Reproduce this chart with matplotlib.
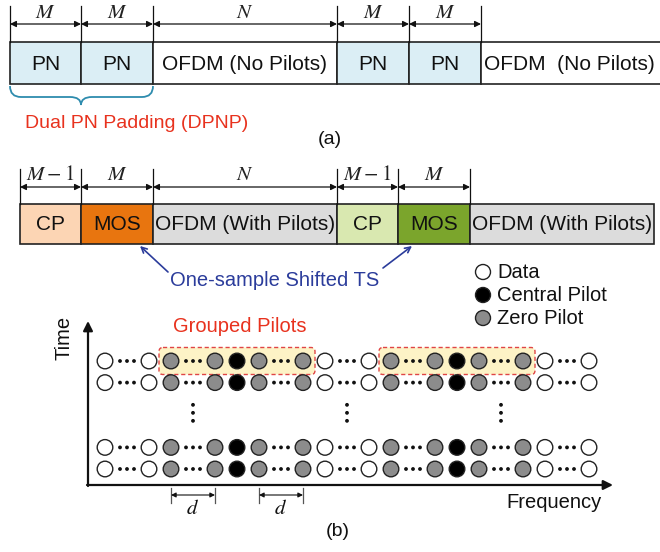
import matplotlib
matplotlib.use('Agg')
import matplotlib.pyplot as plt
from matplotlib.patches import Rectangle, Circle, FancyBboxPatch, PathPatch
from matplotlib.path import Path

plt.rcParams['font.family'] = ['Liberation Sans', 'DejaVu Sans']
plt.rcParams['mathtext.fontset'] = 'stix'

# ---------------- data ----------------
frame_a_labels = ['PN', 'PN', 'OFDM (No Pilots)', 'PN', 'PN', 'OFDM  (No Pilots)']
frame_a_dims = ['$M$', '$M$', '$N$', '$M$', '$M$']
frame_a_colors = ['#dbeef5', '#dbeef5', '#ffffff', '#dbeef5', '#dbeef5', '#ffffff']
frame_a_edges = [10, 81, 153, 337, 409, 481, 664]

frame_b_labels = ['CP', 'MOS', 'OFDM (With Pilots)', 'CP', 'MOS', 'OFDM (With Pilots)']
frame_b_dims = ['$M-1$', '$M$', '$N$', '$M-1$', '$M$']
frame_b_colors = ['#fcd5b4', '#e8750f', '#dcdcdc', '#d9e8b0', '#7ba52c', '#dcdcdc']
frame_b_edges = [20, 81, 153, 337, 398, 470, 654]

# O = data, B = central pilot, G = zero pilot, . = ellipsis
row_pattern = 'O.OG.GBG.GO.OG.GBG.GO.O'
row_slots = [0, 1, 4, 5]
vdots_cols = [4, 11, 18]
group_spans = [(3, 9), (13, 19)]
d_spans = [(3, 5), (7, 9)]
legend_labels = ['Data', 'Central Pilot', 'Zero Pilot']
legend_kinds = ['O', 'B', 'G']

# ---------------- styles ----------------
kind_face = {'O': '#ffffff', 'B': '#000000', 'G': '#8c8c8c'}
EDGE = '#222222'
RED = '#e8321e'
BLUE = '#2b3c9b'
BRACE = '#2e8cae'

fig = plt.figure(figsize=(6.6, 5.52), dpi=100)
ax = fig.add_axes([0, 0, 1, 1])
ax.set_xlim(0, 660)
ax.set_ylim(552, 0)
ax.axis('off')


def frame(edges, labels, colors, dims, ytop, ybot, ytick, yarr, ylab, fs=15):
    for i, lab in enumerate(labels):
        x0, x1 = edges[i], edges[i + 1]
        ax.add_patch(Rectangle((x0, ytop), x1 - x0, ybot - ytop, facecolor=colors[i],
                               edgecolor=EDGE, lw=1.2, zorder=2))
        ax.text((x0 + min(x1, 658)) / 2, (ytop + ybot) / 2 + 1, lab, ha='center', va='center',
                fontsize=fs, color='#111111', zorder=3)
    for i, dl in enumerate(dims):
        x0, x1 = edges[i], edges[i + 1]
        ax.annotate('', xy=(x1, yarr), xytext=(x0, yarr),
                    arrowprops=dict(arrowstyle='<|-|>', color='#111111', lw=0.9,
                                    mutation_scale=9, shrinkA=0, shrinkB=0))
        ax.text((x0 + x1) / 2, ylab, dl, ha='center', va='center', fontsize=15,
                color='#222222')
    for x in edges[:len(dims) + 1]:
        ax.plot([x, x], [ytick, ytop], color='#111111', lw=0.9)


# ---- (a) ----
frame(frame_a_edges, frame_a_labels, frame_a_colors, frame_a_dims, 42, 84, 6, 24, 12)

# brace under dual PN
x0, xm, x1 = frame_a_edges[0], frame_a_edges[1], frame_a_edges[2]
y0, y1, y2, r = 86, 97, 105, 11
verts = [(x0, y0), (x0, y1), (x0 + r, y1),
         (xm - r, y1), (xm, y1), (xm, y2),
         (xm, y1), (xm + r, y1),
         (x1 - r, y1), (x1, y1), (x1, y0)]
codes = [Path.MOVETO, Path.CURVE3, Path.CURVE3,
         Path.LINETO, Path.CURVE3, Path.CURVE3,
         Path.CURVE3, Path.CURVE3,
         Path.LINETO, Path.CURVE3, Path.CURVE3]
ax.add_patch(PathPatch(Path(verts, codes), facecolor='none', edgecolor=BRACE, lw=1.3))
ax.text(137, 123, 'Dual PN Padding (DPNP)', ha='center', va='center', fontsize=14, color=RED)
ax.text(330, 140, '(a)', ha='center', va='center', fontsize=14, color='#111111')

# ---- (b) frame ----
frame(frame_b_edges, frame_b_labels, frame_b_colors, frame_b_dims, 204, 244, 169, 187, 175)

ax.text(275, 281, 'One-sample Shifted TS', ha='center', va='center', fontsize=14.5, color=BLUE)
for (xs, ys), (xe, ye) in [((168, 272), (140, 246)), ((383, 268), (412, 246))]:
    ax.annotate('', xy=(xe, ye), xytext=(xs, ys),
                arrowprops=dict(arrowstyle='->', color=BLUE, lw=1.2, mutation_scale=10,
                                shrinkA=0, shrinkB=0))

# legend
for i, (lab, kind) in enumerate(zip(legend_labels, legend_kinds)):
    yy = 272 + 23 * i
    ax.add_patch(Circle((483, yy), 7.5, facecolor=kind_face[kind], edgecolor=EDGE, lw=1.0, zorder=4))
    ax.text(497, yy + 0.5, lab, ha='left', va='center', fontsize=14.5, color='#111111')

# ---- (b) grid ----
X0, DX = 105, 22
Y0, DY = 361, 21.6
R = 7.8

def cx(j):
    return X0 + DX * j

def cy(k):
    return Y0 + DY * k

for a, b in group_spans:
    ax.add_patch(FancyBboxPatch((cx(a) - 12, cy(0) - 13.5), cx(b) - cx(a) + 24, 27,
                                boxstyle='round,pad=0,rounding_size=4', facecolor='#fdf3c6',
                                edgecolor='#e04545', lw=1.0, ls=(0, (3, 2)), zorder=1))

for k in row_slots:
    for j, kind in enumerate(row_pattern):
        if kind == '.':
            for dxd in (-7, 0, 7):
                ax.add_patch(Circle((cx(j) + dxd, cy(k)), 1.9, facecolor='#111111',
                                    edgecolor='none', zorder=4))
        else:
            ax.add_patch(Circle((cx(j), cy(k)), R, facecolor=kind_face[kind],
                                edgecolor=EDGE, lw=1.0, zorder=4))

for j in vdots_cols:
    for dyd in (-8, 0, 8):
        ax.add_patch(Circle((cx(j), cy(2.4) + dyd), 1.9, facecolor='#111111',
                            edgecolor='none', zorder=4))

ax.text((cx(group_spans[0][0]) + cx(group_spans[0][1])) / 2 + 3, 327, 'Grouped Pilots',
        ha='center', va='center', fontsize=14.5, color=RED)

# axes arrows
ax.annotate('', xy=(88, 321), xytext=(88, 486),
            arrowprops=dict(arrowstyle='-|>', color='#111111', lw=1.6, mutation_scale=14,
                            shrinkA=0, shrinkB=0))
ax.annotate('', xy=(613, 485), xytext=(87, 485),
            arrowprops=dict(arrowstyle='-|>', color='#111111', lw=1.6, mutation_scale=14,
                            shrinkA=0, shrinkB=0))
ax.text(64, 338, 'Time', rotation=90, ha='center', va='center', fontsize=14.5, color='#111111')
ax.text(554, 503, 'Frequency', ha='center', va='center', fontsize=14.5, color='#111111')

# d markers
for a, b in d_spans:
    xa, xb = cx(a), cx(b)
    ax.annotate('', xy=(xb, 495), xytext=(xa, 495),
                arrowprops=dict(arrowstyle='<|-|>', color='#111111', lw=0.8,
                                mutation_scale=7, shrinkA=0, shrinkB=0))
    for x in (xa, xb):
        ax.plot([x, x], [488, 503], color='#555555', lw=0.9)
    ax.text((xa + xb) / 2, 509, '$d$', ha='center', va='center', fontsize=15, color='#111111')

ax.text(338, 532, '(b)', ha='center', va='center', fontsize=14, color='#111111')

fig.savefig('out.png', dpi=100)
